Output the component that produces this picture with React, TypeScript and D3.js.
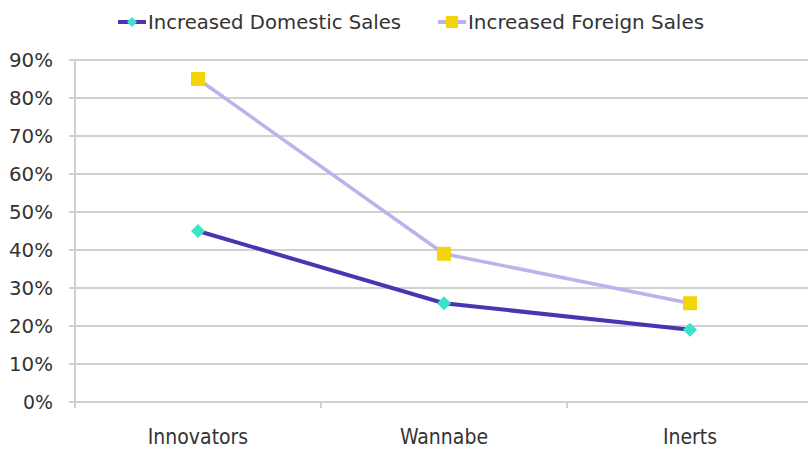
import React from "react";
import * as d3 from "d3";

const categories = ["Innovators", "Wannabe", "Inerts"];
const domesticSales = [45, 26, 19];
const foreignSales = [85, 39, 26];
const yTicks = [0, 10, 20, 30, 40, 50, 60, 70, 80, 90];
const seriesNames = ["Increased Domestic Sales", "Increased Foreign Sales"];

const W = 808, H = 450;
const left = 75, right = 813, top = 60, bottom = 402;
const FONT = "Tahoma, 'DejaVu Sans Condensed', 'DejaVu Sans', sans-serif";

export default function App() {
  const x = d3.scaleBand<string>().domain(categories).range([left, right]);
  const y = d3.scaleLinear().domain([0, 90]).range([bottom, top]);
  const cx = (c: string) => (x(c) as number) + x.bandwidth() / 2;
  const line = d3.line<[string, number]>().x(d => cx(d[0])).y(d => y(d[1]));
  const dom = categories.map((c, i) => [c, domesticSales[i]] as [string, number]);
  const frn = categories.map((c, i) => [c, foreignSales[i]] as [string, number]);
  const diamond = (px: number, py: number, r: number) =>
    `M${px},${py - r}L${px + r},${py}L${px},${py + r}L${px - r},${py}Z`;
  const domColor = "#4a35b0";
  const frnColor = "#bdb3ea";
  const domMarker = "#3be3c8";
  const frnMarker = "#f2d60a";

  return (
    <svg width={W} height={H} style={{ position: "absolute", left: 0, top: 0, background: "#fff" }}>
      <rect width={W} height={H} fill="#fff" />
      {yTicks.map(t => (
        <g key={t}>
          <line x1={left - 6} x2={W} y1={y(t)} y2={y(t)} stroke="#d2d2d2" strokeWidth={2} />
          <text x={53} y={y(t)} dy="0.35em" textAnchor="end" fontFamily={FONT} fontSize={20} fill="#333"
            textLength={t === 0 ? 30 : 44} lengthAdjust="spacingAndGlyphs">{t}%</text>
        </g>
      ))}
      <line x1={left} x2={left} y1={top} y2={bottom + 6} stroke="#cfcfcf" strokeWidth={2} />
      {categories.map(c => (
        <line key={"t" + c} x1={(x(c) as number) + x.bandwidth()} x2={(x(c) as number) + x.bandwidth()} y1={bottom} y2={bottom + 6} stroke="#cfcfcf" strokeWidth={2} />
      ))}
      {categories.map(c => (
        <text key={c} x={cx(c)} y={437} dy="0.35em" textAnchor="middle" fontFamily={FONT} fontSize={21} fill="#333">{c}</text>
      ))}
      <path d={line(frn) || ""} fill="none" stroke={frnColor} strokeWidth={3.5} />
      <path d={line(dom) || ""} fill="none" stroke={domColor} strokeWidth={4} />
      {frn.map(d => (
        <rect key={"f" + d[0]} x={cx(d[0]) - 7} y={y(d[1]) - 7} width={14} height={14} fill={frnMarker} />
      ))}
      {dom.map(d => (
        <path key={"d" + d[0]} d={diamond(cx(d[0]), y(d[1]), 7)} fill={domMarker} />
      ))}
      <g>
        <line x1={118} x2={146} y1={22} y2={22} stroke={domColor} strokeWidth={4} />
        <path d={diamond(132, 22, 5)} fill={domMarker} />
        <text x={148} y={22} dy="0.35em" fontFamily={FONT} fontSize={20} fill="#333" textLength={253} lengthAdjust="spacingAndGlyphs">{seriesNames[0]}</text>
        <line x1={438} x2={466} y1={22} y2={22} stroke={frnColor} strokeWidth={4} />
        <rect x={446} y={16} width={12} height={12} fill={frnMarker} />
        <text x={468} y={22} dy="0.35em" fontFamily={FONT} fontSize={20} fill="#333" textLength={236} lengthAdjust="spacingAndGlyphs">{seriesNames[1]}</text>
      </g>
    </svg>
  );
}
